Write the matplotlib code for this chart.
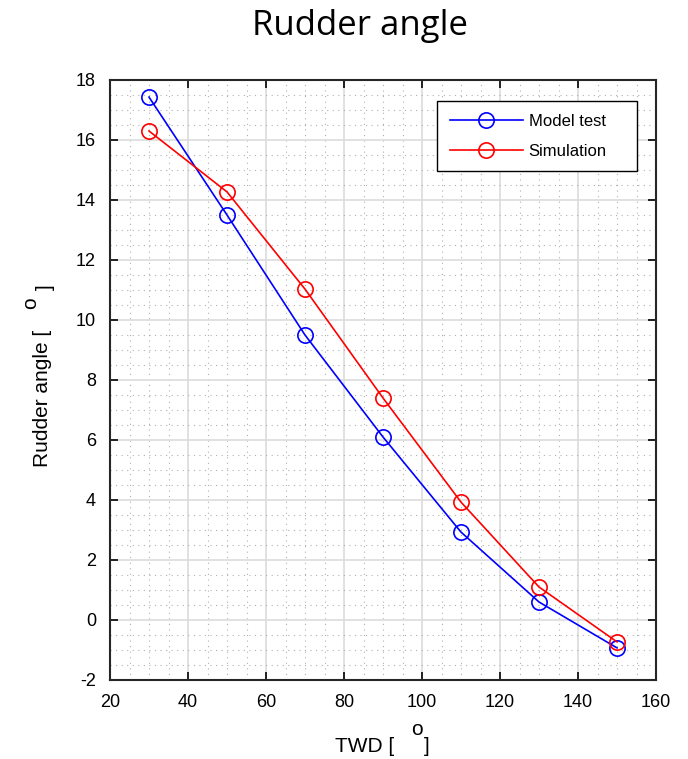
import numpy as np
import matplotlib.pyplot as plt
from matplotlib.ticker import MultipleLocator

# TWD vs rudder angle, model test against simulation
twd = [30, 50, 70, 90, 110, 130, 150]
model_test = [17.43, 13.5, 9.5, 6.1, 2.93, 0.6, -0.93]
simulation = [16.3, 14.27, 11.03, 7.4, 3.93, 1.1, -0.73]

xticks = [20, 40, 60, 80, 100, 120, 140, 160]
yticks = [-2, 0, 2, 4, 6, 8, 10, 12, 14, 16, 18]

plt.rcParams['font.family'] = ['Liberation Sans', 'DejaVu Sans']
plt.rcParams['axes.unicode_minus'] = False

W, H = 688, 759
fig = plt.figure(figsize=(W / 100, H / 100), dpi=100)
ax = fig.add_axes([110 / W, 1 - 680 / H, 546 / W, 600 / H])

def px(x, y):
    # pixel position (from top-left) -> figure fraction
    return x / W, 1 - y / H

ax.plot(twd, model_test, '-o', color='#0000ff', lw=1.2, ms=11,
        mfc='none', mew=1.2, label='Model test')
ax.plot(twd, simulation, '-o', color='#ff0000', lw=1.2, ms=11,
        mfc='none', mew=1.2, label='Simulation')

ax.set_xlim(20, 160)
ax.set_ylim(-2, 18)
ax.set_xticks(xticks)
ax.set_yticks(yticks)
ax.xaxis.set_minor_locator(MultipleLocator(5))
ax.yaxis.set_minor_locator(MultipleLocator(0.5))

ax.grid(which='major', color='#dcdcdc', lw=1.2, ls='-')
ax.grid(which='minor', color='#b0b0b0', lw=0.8, ls=(0, (1, 4)))
ax.set_axisbelow(True)

ax.tick_params(which='major', direction='in', length=6, width=1.2,
               top=True, right=True, labelsize=13, pad=10)
ax.tick_params(which='minor', length=0)
for s in ax.spines.values():
    s.set_linewidth(1.5)
    s.set_color('#262626')

# axis labels with the degree mark raised, pieced together
fs = 15
fig.text(*px(335, 752), 'TWD [', fontsize=fs, ha='left', va='baseline')
fig.text(*px(417, 735), 'o', fontsize=fs, ha='center', va='baseline')
fig.text(*px(424, 752), ']', fontsize=fs, ha='left', va='baseline')

fig.text(*px(43, 467), 'Rudder angle [', fontsize=fs, rotation=90,
         ha='center', va='bottom')
fig.text(*px(31, 303), 'o', fontsize=fs, rotation=90,
         ha='center', va='center')
fig.text(*px(45, 287), ']', fontsize=fs, rotation=90,
         ha='center', va='center')

fig.text(*px(359.5, 35), 'Rudder angle', fontsize=25, family='Open Sans',
         ha='center', va='baseline')

leg = ax.legend(loc='upper left', bbox_to_anchor=(0.599, 0.8, 0.366, 0.165),
                mode='expand', borderaxespad=0, fontsize=12, fancybox=False,
                handlelength=4.4, framealpha=1, borderpad=0.75,
                labelspacing=0.9, handletextpad=0.35)
leg.get_frame().set_edgecolor('black')
leg.get_frame().set_linewidth(1.0)

fig.savefig('out.png', dpi=100)
